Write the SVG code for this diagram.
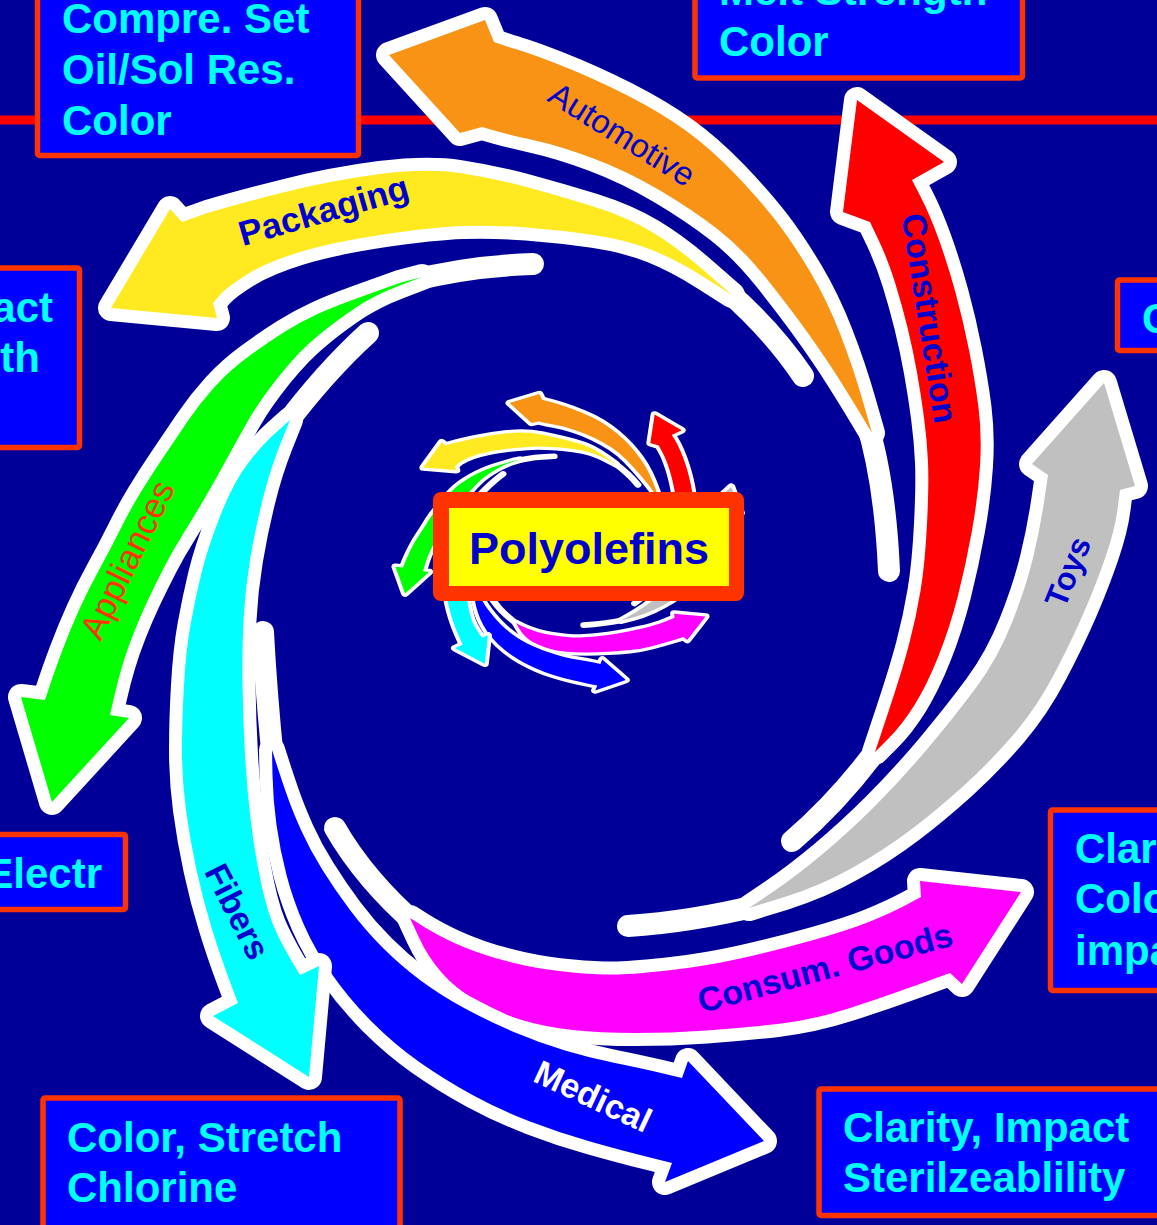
<svg xmlns="http://www.w3.org/2000/svg" xmlns:xlink="http://www.w3.org/1999/xlink" width="1157" height="1225" viewBox="0 0 1157 1225">
<style>
.ol{stroke:#FFFFFF;stroke-width:26;stroke-linejoin:round;paint-order:stroke}
.tail{fill:none;stroke:#FFFFFF;stroke-width:22;stroke-linecap:round}
.box{fill:#0000FF;stroke:#FF3300;stroke-width:5.5}
.bt{font-family:"Liberation Sans",Arial,sans-serif;font-weight:bold;font-size:42px;fill:#00FFFF}
.lb{font-family:"Liberation Sans",Arial,sans-serif;font-weight:bold;font-size:34px;text-anchor:middle}
.lr{font-family:"Liberation Sans",Arial,sans-serif;font-size:34px;text-anchor:middle}
</style>
<rect x="0" y="0" width="1157" height="1225" fill="#000099"/>
<line x1="0" y1="120" x2="1157" y2="120" stroke="#FF0000" stroke-width="9"/>

<g id="swirl">
  <g id="arrow-packaging">
    <path class="tail" d="M 725,289 Q 772,330 803,376"/>
    <path class="ol" fill="#FFE921" d="M 111,308 L 170,209 L 182,222 L 207.5,213 Q 233,205 283,192.5 Q 333,180 380,174 Q 427,168 460,173 Q 493,178 526.5,187 Q 560,196 593.5,206.5 Q 627,217 652,232 Q 677,247 704.5,271 L 732,295 L 704.5,277.5 Q 677,260 652,250 Q 627,240 593.5,235 Q 560,230 526.5,227.5 Q 493,225 463,226 Q 433,227 383,234.5 Q 333,242 300,252 Q 267,262 247,274.5 Q 227,287 220,295 L 213,303 L 217,318 Z"/>
  </g>
  <g id="arrow-automotive">
    <path class="tail" d="M 866,420 Q 885,480 889,571"/>
    <path class="ol" fill="#F89316" d="M 389,55 L 485,20 L 494,42 L 510,47.5 Q 527,52 560,65 Q 593,78 626.5,95 Q 660,112 685,130 Q 710,148 735,174 Q 760,200 776.5,221.5 Q 793,243 810,271.5 Q 827,300 840,333.5 Q 853,367 862.5,400 L 872,433 L 861.5,415.5 Q 851,398 838,377.5 Q 825,357 807.5,332.5 Q 790,308 766.5,278.5 Q 743,249 718,229.5 Q 693,210 660,190.5 Q 627,171 593.5,158.5 Q 560,146 535,140.5 Q 510,135 496,131 L 482,127 L 460,133 Z"/>
  </g>
  <g id="arrow-construction">
    <path class="tail" d="M 880,745 Q 840,800 792,841"/>
    <path class="ol" fill="#FF0000" d="M 857,100 L 944,162 L 912,180 L 921,197.5 Q 930,215 939,240 Q 948,265 955.5,292.5 Q 963,320 969,350 Q 975,380 978.5,407.5 Q 982,435 980,466 Q 978,497 972,530.5 Q 966,564 958,595.5 Q 950,627 938.5,656 Q 927,685 914.5,705 Q 902,725 888.5,738.5 L 875,752 L 888.5,711.5 Q 902,671 909,644.5 Q 916,618 920.5,591 Q 925,564 927,524 Q 929,484 928,462 Q 927,440 924,417.5 Q 921,395 917,372.5 Q 913,350 907.5,327.5 Q 902,305 895,282.5 Q 888,260 879,241 L 870,222 L 843,212 Z"/>
  </g>
  <g id="arrow-toys">
    <path class="tail" d="M 760,905 Q 690,922 628,926"/>
    <path class="ol" fill="#C0C0C0" d="M 1104,383 L 1135,486 L 1120,490 L 1117.5,509.5 Q 1115,529 1106,555.5 Q 1097,582 1084.5,611 Q 1072,640 1054.5,673.5 Q 1037,707 1014,734 Q 991,761 964,785.5 Q 937,810 910.5,830 Q 884,850 852,868 Q 820,886 784.5,897 L 749,908 L 772,892.5 Q 795,877 822,854.5 Q 849,832 875.5,805.5 Q 902,779 928.5,747.5 Q 955,716 976.5,687 Q 998,658 1012,622.5 Q 1026,587 1033,558 Q 1040,529 1044,502 L 1048,475 L 1032,464 Z"/>
  </g>
  <g id="arrow-consum-goods">
    <path class="tail" d="M 418,926 Q 365,880 335,828"/>
    <path class="ol" fill="#FF00FF" d="M 1021,892 L 962,984 L 950,973 L 917,985 Q 884,997 848.5,1008.5 Q 813,1020 777.5,1024 Q 742,1028 706.5,1030.5 Q 671,1033 635.5,1033 Q 600,1033 572.5,1030 Q 545,1027 520,1019.5 Q 495,1012 475,1000 Q 455,988 441.5,972.5 Q 428,957 419,937.5 L 410,918 L 421,925 Q 432,932 447,939.5 Q 462,947 481,953.5 Q 500,960 522.5,965 Q 545,970 572.5,972.5 Q 600,975 618,974.5 Q 636,974 671.5,970 Q 707,966 742.5,958 Q 778,950 813.5,940 Q 849,930 870,921.5 Q 891,913 906,905 L 921,897 L 920,881 Z"/>
  </g>
  <g id="arrow-medical">
    <path class="tail" d="M 273,760 Q 266,690 263,632"/>
    <path class="ol" fill="#0000FF" d="M 764,1141 L 688,1061 L 682,1078 L 661,1073 Q 640,1068 615,1063 Q 590,1058 565,1050.5 Q 540,1043 515,1032.5 Q 490,1022 465,1008.5 Q 440,995 420,980 Q 400,965 382.5,947.5 Q 365,930 350,910 Q 335,890 322.5,870 Q 310,850 301,830 Q 292,810 286,792.5 Q 280,775 276,762.5 L 272,750 L 272.5,775 Q 273,800 276.5,825 Q 280,850 286.5,875 Q 293,900 304,925 Q 315,950 332.5,975 Q 350,1000 372.5,1022.5 Q 395,1045 420,1062.5 Q 445,1080 472.5,1095 Q 500,1110 530,1121.5 Q 560,1133 590,1141.5 Q 620,1150 646,1156.5 L 672,1163 L 665,1182 Z"/>
  </g>
  <g id="arrow-fibers">
    <path class="tail" d="M 283,428 Q 325,372 368,333"/>
    <path class="ol" fill="#00FFFF" d="M 309,1077 L 213,1016 L 238,1003 L 229,979 Q 220,955 211.5,927.5 Q 203,900 196.5,870 Q 190,840 186,810 Q 182,780 182,750 Q 182,720 184,685 Q 186,650 190.5,625 Q 195,600 201,575 Q 207,550 220,516.5 Q 233,483 247.5,464 Q 262,445 276,432.5 L 290,420 L 280,445 Q 270,470 262.5,500 Q 255,530 250,560 Q 245,590 243.5,620 Q 242,650 242.5,685 Q 243,720 245,755 Q 247,790 251,822.5 Q 255,855 261.5,885 Q 268,915 276.5,932.5 Q 285,950 292.5,962.5 L 300,975 L 319,966 Z"/>
  </g>
  <g id="arrow-appliances">
    <path class="tail" d="M 410,281 Q 470,266 533,264"/>
    <path class="ol" fill="#00FF00" d="M 52,802 L 21,697 L 45,700 L 50,685 Q 55,670 62.5,650 Q 70,630 79,610 Q 88,590 99,570 Q 110,550 120,530 Q 130,510 140,493.5 Q 150,477 162.5,458.5 Q 175,440 187.5,421.5 Q 200,403 215,386.5 Q 230,370 248.5,356.5 Q 267,343 283.5,332.5 Q 300,322 316.5,314.5 Q 333,307 356.5,298.5 Q 380,290 401,282.5 L 422,277 L 398.5,286 Q 375,295 357.5,306.5 Q 340,318 320,334 Q 300,350 280,375 Q 260,400 248.5,420 Q 237,440 227,458.5 Q 217,477 206,496 Q 195,515 184,532.5 Q 173,550 164,567.5 Q 155,585 147.5,601 Q 140,617 133.5,633.5 Q 127,650 122.5,665 Q 118,680 114,697.5 L 110,715 L 129,718 Z"/>
  </g>
</g>

<g id="arrow-labels">
  <text id="label-packaging" class="lb" style="fill:#0000CC;font-size:35px" transform="translate(327,222) rotate(-16)">Packaging</text>
  <text id="label-automotive" class="lr" style="fill:#0000CC;font-size:33px" transform="translate(616,144) rotate(32)">Automotive</text>
  <text id="label-construction" class="lb" style="fill:#0000CC" transform="translate(918,320) rotate(81)">Construction</text>
  <text id="label-toys" class="lb" style="fill:#0000CC;font-size:32px" transform="translate(1078,576) rotate(-68)">Toys</text>
  <text id="label-consum-goods" class="lb" style="fill:#0000CC;font-size:34px" transform="translate(828,979) rotate(-15)">Consum. Goods</text>
  <text id="label-medical" class="lb" style="fill:#FFFFFF" transform="translate(588,1107) rotate(25)">Medical</text>
  <text id="label-fibers" class="lb" style="fill:#0000CC" transform="translate(227,917) rotate(63)">Fibers</text>
  <text id="label-appliances" class="lr" style="fill:#FF3300;font-size:35px" transform="translate(138,565) rotate(-64)">Appliances</text>
</g>

<use id="mini-swirl" xlink:href="#swirl" href="#swirl" transform="translate(389,389) scale(0.31,0.255)"/>

<g id="node-polyolefins">
  <rect x="433" y="492" width="311" height="109" rx="8" fill="#FF3300"/>
  <rect x="449" y="508" width="280" height="78" fill="#FFFF00"/>
  <text x="469" y="564" font-family="'Liberation Sans',Arial,sans-serif" font-weight="bold" font-size="45" fill="#0000CC">Polyolefins</text>
</g>

<g id="box-top-left">
  <rect class="box" x="37.5" y="-20" width="321" height="175.5" rx="2"/>
  <text class="bt" x="62" y="33">Compre. Set</text>
  <text class="bt" x="62" y="84">Oil/Sol Res.</text>
  <text class="bt" x="62" y="135">Color</text>
</g>
<g id="box-top-right">
  <rect class="box" x="695" y="-20" width="327.5" height="98" rx="2"/>
  <text class="bt" x="719" y="5">Melt Strength</text>
  <text class="bt" x="719" y="56">Color</text>
</g>
<g id="box-left">
  <rect class="box" x="-20" y="268" width="99.5" height="179.5" rx="2"/>
  <text class="bt" x="53" y="322" text-anchor="end">act</text>
  <text class="bt" x="40" y="372" text-anchor="end">gth</text>
</g>
<g id="box-right">
  <rect class="box" x="1117.5" y="280" width="60" height="70.5" rx="2"/>
  <text class="bt" x="1142" y="333">C</text>
</g>
<g id="box-electr">
  <rect class="box" x="-20" y="834.5" width="145.5" height="75" rx="2"/>
  <text class="bt" x="102" y="888" text-anchor="end">Electr</text>
</g>
<g id="box-right-lower">
  <rect class="box" x="1050.5" y="810" width="130" height="180.5" rx="2"/>
  <text class="bt" x="1075" y="863">Clar</text>
  <text class="bt" x="1075" y="913">Colo</text>
  <text class="bt" x="1075" y="965">impa</text>
</g>
<g id="box-bottom-left">
  <rect class="box" x="43" y="1098" width="357" height="150" rx="2"/>
  <text class="bt" x="67" y="1152">Color, Stretch</text>
  <text class="bt" x="67" y="1202">Chlorine</text>
</g>
<g id="box-bottom-right">
  <rect class="box" x="819" y="1089" width="360" height="126.5" rx="2"/>
  <text class="bt" x="843" y="1142">Clarity, Impact</text>
  <text class="bt" x="843" y="1192">Sterilzeablility</text>
</g>
</svg>
